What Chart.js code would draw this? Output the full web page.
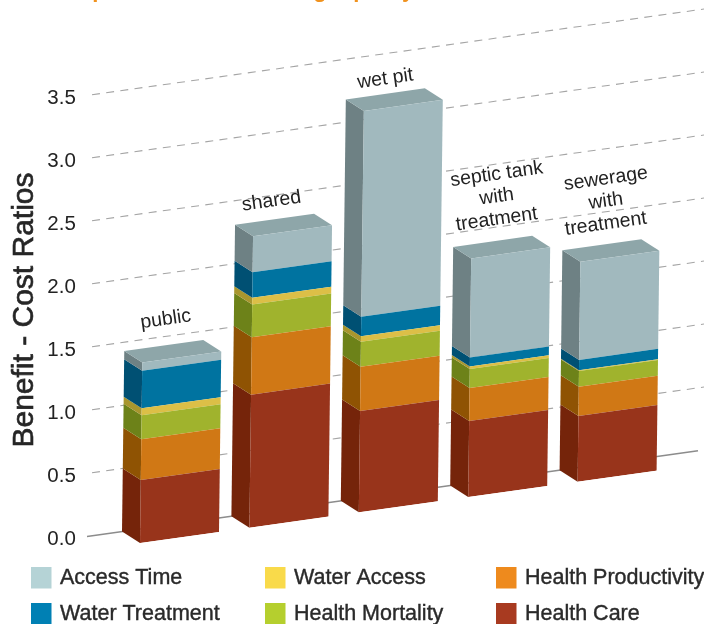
<!DOCTYPE html>
<html>
<head>
<meta charset="utf-8">
<title>Benefit - Cost Ratios</title>
<script src="https://cdn.jsdelivr.net/npm/chart.js@4/dist/chart.umd.min.js"></script>
<style>
  html, body { margin: 0; padding: 0; background: #fff; }
  canvas { display: block; }
</style>
</head>
<body>
<canvas id="grafico" width="704" height="624"></canvas>
<script>
const categories = ['public', 'shared', 'wet pit', ['septic tank', 'with', 'treatment'], ['sewerage', 'with', 'treatment']];
const healthCare = [0.50, 1.056, 0.804, 0.603, 0.521];
const healthProductivity = [0.323, 0.455, 0.352, 0.262, 0.233];
const healthMortality = [0.19, 0.26, 0.198, 0.151, 0.125];
const waterAccess = [0.056, 0.053, 0.043, 0.021, 0.006];
const waterTreatment = [0.298, 0.203, 0.156, 0.071, 0.082];
const accessTime = [0.066, 0.286, 1.633, 0.786, 0.778];
const yTicks = [0, 0.5, 1, 1.5, 2, 2.5, 3, 3.5];

const font = '"Liberation Sans", Arial, sans-serif';
const SLOPE = -0.14;  // las barras suben hacia la derecha
const LEAN = 0.0125;  // ligera inclinacion vertical
const X0 = 140, Y0 = 543;
const DEPTH = { x: -18, y: -11.5 };

// frente de la barra -> posicion en la imagen
const project = (x, y) => ({ x: x + LEAN * (Y0 - y), y: y + SLOPE * (x - X0) });

function poly(ctx, pts, color) {
  ctx.fillStyle = color;
  ctx.beginPath();
  pts.forEach((p, i) => i ? ctx.lineTo(p.x, p.y) : ctx.moveTo(p.x, p.y));
  ctx.closePath();
  ctx.fill();
}

const back = p => ({ x: p.x + DEPTH.x, y: p.y + DEPTH.y });

// lineas de la rejilla y caras laterales, antes de las barras
const fondo = {
  id: 'fondo',
  beforeDatasetsDraw(chart) {
    const ctx = chart.ctx, yScale = chart.scales.y;
    ctx.save();
    yScale.ticks.forEach(t => {
      const y = yScale.getPixelForValue(t.value) + DEPTH.y;
      const lineY = x => y + SLOPE * (x + 18 - X0);
      const zero = t.value === 0;
      ctx.beginPath();
      ctx.setLineDash(zero ? [] : [8, 6.3]);
      ctx.strokeStyle = zero ? '#8c8c8c' : '#a5a5a5';
      ctx.lineWidth = zero ? 1.5 : 1.1;
      const x1 = zero ? 87 : 92, x2 = zero ? 698 : 704;
      ctx.moveTo(x1, lineY(x1));
      ctx.lineTo(x2, lineY(x2));
      ctx.stroke();
    });
    ctx.setLineDash([]);

    chart.data.datasets.forEach((ds, d) => {
      chart.getDatasetMeta(d).data.forEach(bar => {
        const l = bar.x - bar.width / 2, r = bar.x + bar.width / 2;
        const a = project(l, bar.y), b = project(l, bar.base);
        poly(ctx, [a, b, back(b), back(a)], ds.sideColor);
        if (d === chart.data.datasets.length - 1) {
          const c = project(r, bar.y);
          poly(ctx, [a, c, back(c), back(a)], ds.topColor);
        }
      });
    });
    ctx.restore();

    // cara frontal: la dibuja Chart.js con el lienzo inclinado
    ctx.save();
    ctx.transform(1, SLOPE, -LEAN, 1, LEAN * Y0, -SLOPE * X0);
  },
  afterDatasetsDraw(chart) {
    chart.ctx.restore();
  }
};

const labelLift = [26, 18, 15, 22, 21];
const labelShift = [2, -3, 0, 4, 4];

const textos = {
  id: 'textos',
  afterDraw(chart) {
    const ctx = chart.ctx;
    const top = chart.getDatasetMeta(chart.data.datasets.length - 1).data;
    ctx.save();
    ctx.textAlign = 'center';
    ctx.textBaseline = 'middle';

    // etiquetas encima de cada barra
    ctx.fillStyle = '#222';
    ctx.font = '19.5px ' + font;
    top.forEach((bar, i) => {
      const p = back(project(bar.x, bar.y));
      const lines = [].concat(categories[i]).reverse();
      lines.forEach((txt, n) => {
        ctx.save();
        ctx.translate(p.x + labelShift[i], p.y - labelLift[i] - n * 22.5);
        ctx.rotate(-0.14);
        ctx.fillText(txt, 0, 0);
        ctx.restore();
      });
    });

    // titulo del eje
    ctx.save();
    ctx.translate(25, 310);
    ctx.rotate(-Math.PI / 2);
    ctx.font = '30px ' + font;
    ctx.fillStyle = ctx.strokeStyle = '#262626';
    ctx.lineWidth = 0.6;
    ctx.fillText('Benefit - Cost Ratios', 0, 0);
    ctx.strokeText('Benefit - Cost Ratios', 0, 0);
    ctx.restore();

    // resto del titulo cortado por el borde superior
    ctx.font = 'bold 22px ' + font;
    ctx.fillStyle = '#f0921e';
    ctx.textBaseline = 'alphabetic';
    [['p', 99], ['g', 320], ['p', 360], ['y', 408]].forEach(([c, x]) => ctx.fillText(c, x, -3));

    // leyenda en dos filas y tres columnas, de arriba abajo
    ctx.textAlign = 'left';
    ctx.textBaseline = 'middle';
    ctx.font = '21.5px ' + font;
    ctx.lineWidth = 0.4;
    const cols = [31, 265, 496], rows = [567, 603];
    [...chart.data.datasets].reverse().forEach((ds, i) => {
      const x = cols[Math.floor(i / 2)], y = rows[i % 2];
      ctx.fillStyle = ds.legendColor;
      ctx.fillRect(x, y, 20.5, 21.5);
      ctx.fillStyle = ctx.strokeStyle = '#2a2a2a';
      ctx.fillText(ds.label, x + 29, y + 11.5);
      ctx.strokeText(ds.label, x + 29, y + 11.5);
    });
    ctx.restore();
  }
};

new Chart(document.getElementById('grafico').getContext('2d'), {
  type: 'bar',
  data: {
    labels: categories,
    datasets: [
      { label: 'Health Care', data: healthCare, backgroundColor: '#98341b', sideColor: '#75240a', legendColor: '#a83a20' },
      { label: 'Health Productivity', data: healthProductivity, backgroundColor: '#d07815', sideColor: '#8f5303', legendColor: '#ee8a1d' },
      { label: 'Health Mortality', data: healthMortality, backgroundColor: '#a0b32d', sideColor: '#6d8219', legendColor: '#b5cf2e' },
      { label: 'Water Access', data: waterAccess, backgroundColor: '#dcbf47', sideColor: '#a8962e', legendColor: '#f9da4a' },
      { label: 'Water Treatment', data: waterTreatment, backgroundColor: '#0073a0', sideColor: '#005073', legendColor: '#0080b4' },
      { label: 'Access Time', data: accessTime, backgroundColor: '#a1b9be', sideColor: '#6e8184', topColor: '#8ea6a9', legendColor: '#b5d3d6' }
    ]
  },
  options: {
    responsive: false,
    animation: false,
    layout: { padding: { top: 102, bottom: 81, right: 32.2, left: 0 } },
    datasets: { bar: { categoryPercentage: 1, barPercentage: 0.722 } },
    plugins: { legend: { display: false }, tooltip: { enabled: false } },
    scales: {
      x: { stacked: true, display: false },
      y: {
        stacked: true,
        min: 0,
        max: 3.5,
        afterFit: scale => { scale.width = 124.8; },
        afterBuildTicks: scale => { scale.ticks = yTicks.map(value => ({ value })); },
        grid: { display: false },
        border: { display: false },
        ticks: {
          padding: 41,
          labelOffset: -4,
          color: '#222',
          font: { family: font, size: 20.5 },
          callback: v => v.toFixed(1)
        }
      }
    }
  },
  plugins: [fondo, textos]
});
</script>
</body>
</html>
